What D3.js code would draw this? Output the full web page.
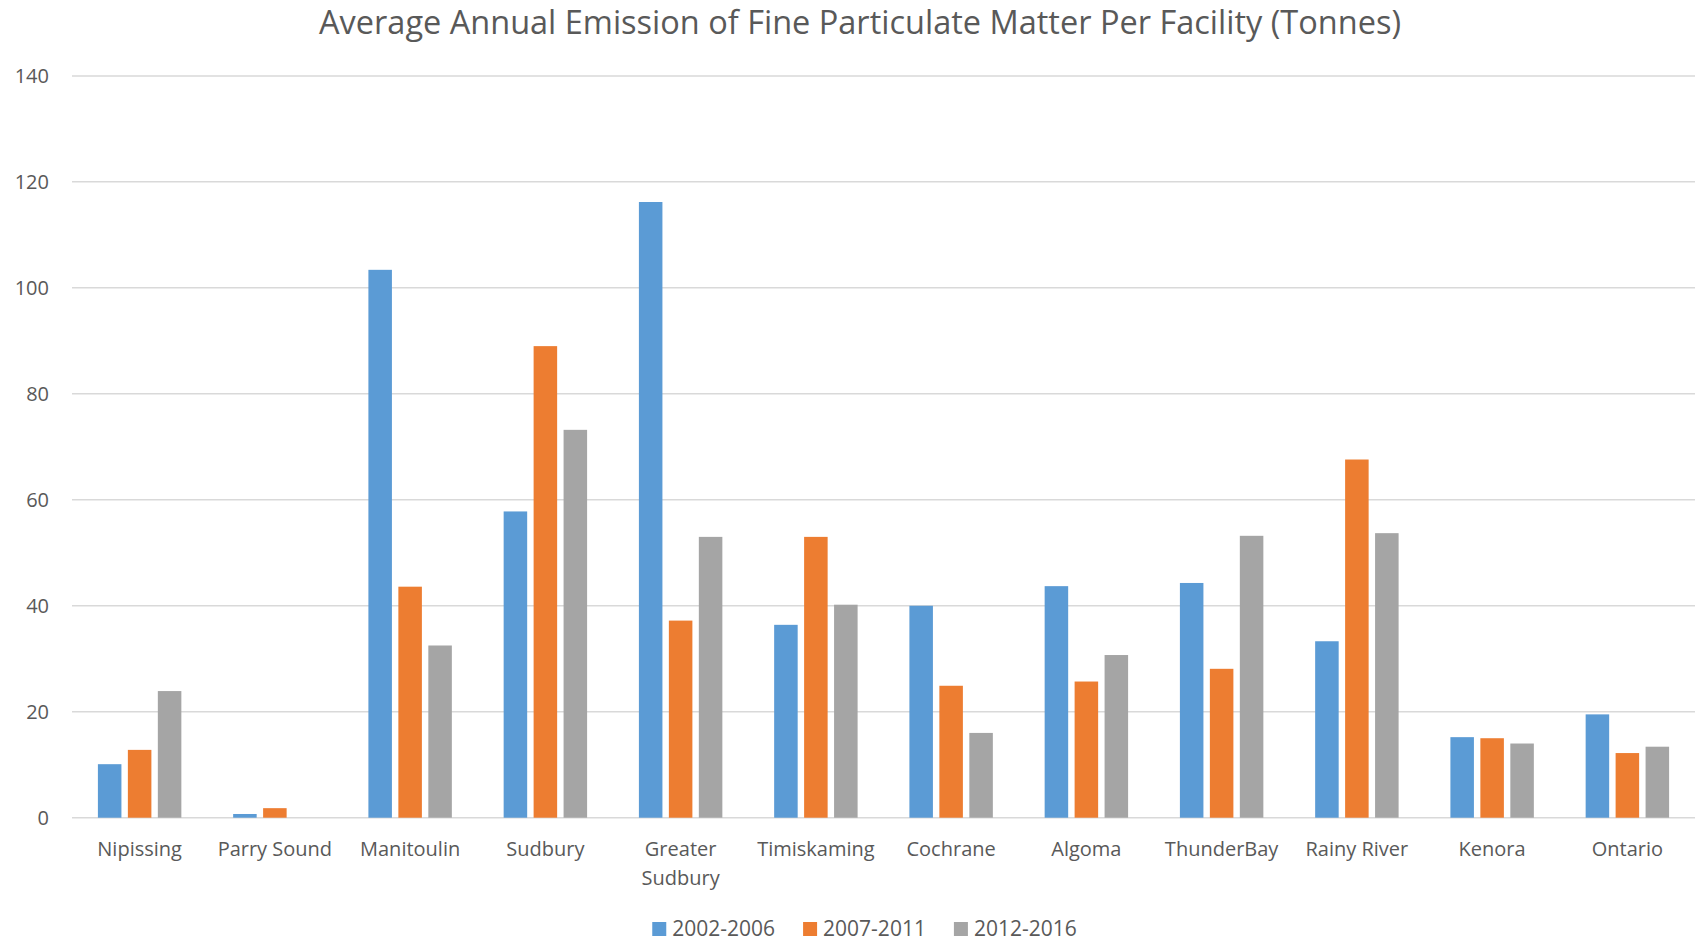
<!DOCTYPE html>
<html>
<head>
<meta charset="utf-8">
<script src="https://cdn.jsdelivr.net/npm/d3@7"></script>
<style>
  html, body { margin: 0; padding: 0; background: #fff; }
  svg { display: block; font-family: "Open Sans", sans-serif; }
</style>
</head>
<body>
<svg id="chart" width="1698" height="942"></svg>
<script>
const categories = ["Nipissing", "Parry Sound", "Manitoulin", "Sudbury", "Greater Sudbury", "Timiskaming", "Cochrane", "Algoma", "ThunderBay", "Rainy River", "Kenora", "Ontario"];
const seriesNames = ["2002-2006", "2007-2011", "2012-2016"];
const values2002_2006 = [10.1, 0.7, 103.4, 57.8, 116.2, 36.4, 40.0, 43.7, 44.3, 33.3, 15.2, 19.5];
const values2007_2011 = [12.8, 1.8, 43.6, 89.0, 37.2, 53.0, 24.9, 25.7, 28.1, 67.6, 15.0, 12.2];
const values2012_2016 = [23.9, 0, 32.5, 73.2, 53.0, 40.2, 16.0, 30.7, 53.2, 53.7, 14.0, 13.4];
const yTicks = [0, 20, 40, 60, 80, 100, 120, 140];
const colors = ["#5B9BD5", "#ED7D31", "#A5A5A5"];
const titleText = "Average Annual Emission of Fine Particulate Matter Per Facility (Tonnes)";

const seriesValues = [values2002_2006, values2007_2011, values2012_2016];
const data = categories.map((c, i) => ({
  category: c,
  vals: seriesNames.map((s, j) => ({ series: s, value: seriesValues[j][i], idx: j }))
}));

const svg = d3.select("#chart");
const plotLeft = 72, plotRight = 1695, plotTop = 75.9, plotBottom = 817.7;

const y = d3.scaleLinear().domain([0, 140]).range([plotBottom, plotTop]);
const x0 = d3.scaleBand().domain(categories).range([plotLeft, plotRight]).paddingInner(0.383).paddingOuter(0.383 / 2);
const x1 = d3.scaleBand().domain(seriesNames).range([0, x0.bandwidth()]).paddingInner(0.215);

// gridlines
svg.append("g").selectAll("line").data(yTicks).join("line")
  .attr("x1", plotLeft).attr("x2", plotRight)
  .attr("y1", d => y(d)).attr("y2", d => y(d))
  .attr("stroke", "#D9D9D9").attr("stroke-width", 1.5);

// y axis labels
const yAxis = d3.axisLeft(y).tickValues(yTicks).tickSize(0).tickPadding(0);
const yg = svg.append("g").attr("transform", `translate(49,0)`).call(yAxis);
yg.select(".domain").remove();
yg.selectAll("text").attr("fill", "#595959").attr("font-size", 20)
  .attr("font-family", "'Open Sans', sans-serif");

// bars
const groups = svg.append("g").selectAll("g").data(data).join("g")
  .attr("transform", d => `translate(${x0(d.category)},0)`);
groups.selectAll("rect").data(d => d.vals).join("rect")
  .attr("x", d => x1(d.series))
  .attr("width", x1.bandwidth())
  .attr("y", d => y(d.value))
  .attr("height", d => y(0) - y(d.value))
  .attr("fill", d => colors[d.idx]);

// category labels
const xLabels = svg.append("g");
const catLines = { "Greater Sudbury": ["Greater", "Sudbury"] };
categories.forEach(c => {
  const lines = catLines[c] || [c];
  const t = xLabels.append("text")
    .attr("x", x0(c) + x0.bandwidth() / 2)
    .attr("y", 856)
    .attr("text-anchor", "middle")
    .attr("fill", "#595959")
    .attr("font-size", 20);
  lines.forEach((l, i) => {
    t.append("tspan").attr("x", x0(c) + x0.bandwidth() / 2).attr("dy", i === 0 ? 0 : 29).text(l);
  });
});

// title
svg.append("text")
  .attr("x", 860).attr("y", 34)
  .attr("text-anchor", "middle")
  .attr("fill", "#595959")
  .attr("font-size", 32.5)
  .text(titleText);

// legend
const legend = svg.append("g");
const sq = 14, gapSq = 6, gapItem = 28;
const items = seriesNames.map((s, i) => {
  const g = legend.append("g");
  g.append("rect").attr("width", sq).attr("height", sq).attr("y", 922).attr("fill", colors[i]);
  const t = g.append("text").attr("x", sq + gapSq).attr("y", 936)
    .attr("fill", "#595959").attr("font-size", 21).text(s);
  return { g, w: sq + gapSq + t.node().getComputedTextLength() };
});
const total = d3.sum(items, d => d.w) + gapItem * (items.length - 1);
let lx = 864.5 - total / 2;
items.forEach(it => { it.g.attr("transform", `translate(${lx},0)`); lx += it.w + gapItem; });
</script>
</body>
</html>
